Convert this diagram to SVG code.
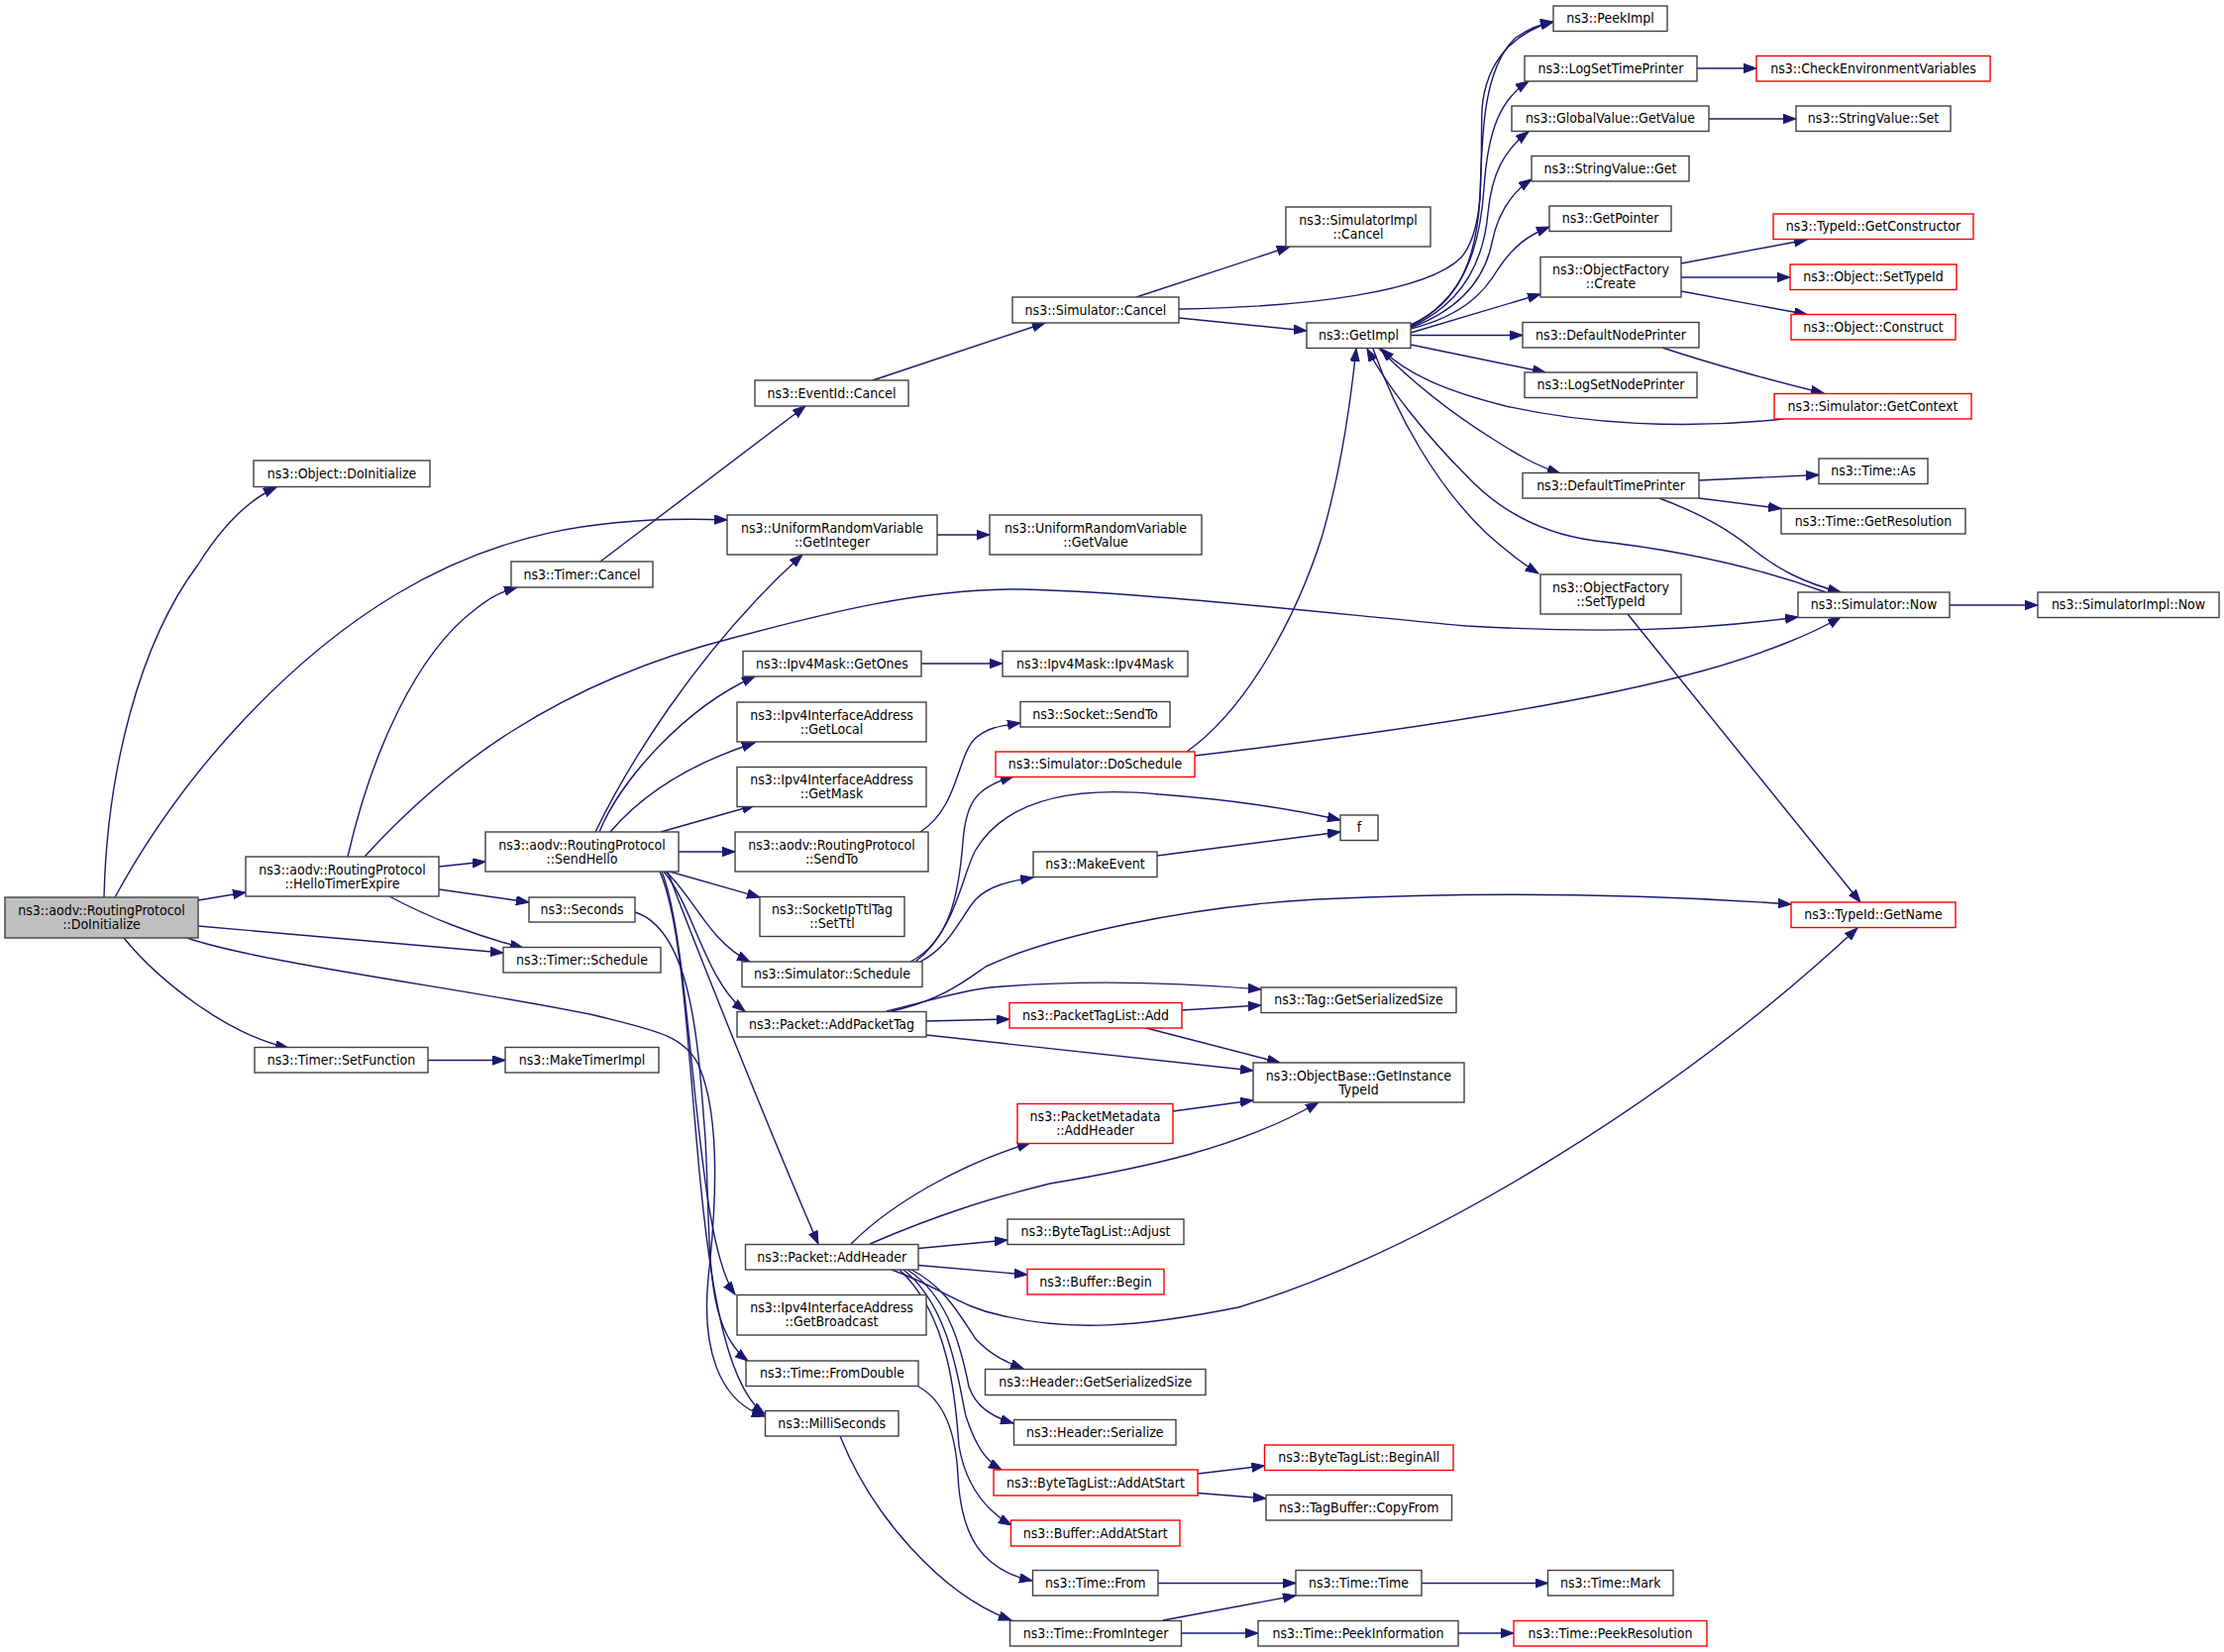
<svg xmlns="http://www.w3.org/2000/svg" width="2245" height="1668" viewBox="0 0 2245 1668">
<defs>
<style>
.n rect{fill:#fff;stroke:#404040;stroke-width:1.4}
.r rect{stroke:#ff0000}
.root rect{fill:#bfbfbf}
text{font-family:'DejaVu Sans Condensed','DejaVu Sans',sans-serif;font-stretch:condensed;font-size:14px;text-anchor:middle;fill:#000}
#edges path{fill:none;stroke:#191970;stroke-width:1.4;marker-end:url(#ah)}
</style>
<marker id="ah" markerUnits="userSpaceOnUse" markerWidth="14" markerHeight="10" refX="13" refY="4.7" orient="auto">
<path d="M0,0 L13,4.7 L0,9.4 z" fill="#191970" stroke="#191970" stroke-width="1"/>
</marker>
</defs>
<rect width="2245" height="1668" fill="#fff"/>
<g id="edges">
<path d="M105,906 C108,780 140,650 200,570 C225,530 250,505 279,492"/>
<path d="M116,906 C190,770 300,660 400,600 C500,540 600,520 734,525"/>
<path d="M200,909 L248,901"/>
<path d="M200,935 L508,962"/>
<path d="M125,947 C160,990 230,1045 291,1058"/>
<path d="M189,947 C260,972 480,1000 600,1025 C660,1040 690,1045 705,1075 C725,1120 725,1200 715,1290 C708,1360 725,1415 772,1430"/>
<path d="M351,865 C375,760 420,660 480,615 C495,603 505,598 522,593"/>
<path d="M368,865 C450,775 560,690 740,644 C830,620 930,594 1031,595 C1150,598 1300,615 1480,632 C1620,640 1720,636 1815,623"/>
<path d="M443,875 L490,870"/>
<path d="M443,898 L534,911"/>
<path d="M393,905 C430,925 480,945 528,957"/>
<path d="M601,840 C630,780 700,660 810,560"/>
<path d="M605,840 C625,790 690,715 762,683"/>
<path d="M616,840 C650,800 700,770 762,750"/>
<path d="M667,840 L762,813"/>
<path d="M685,860 L742,860"/>
<path d="M676,880 L767,906"/>
<path d="M672,880 C700,905 715,950 757,971"/>
<path d="M670,880 C700,915 712,990 752,1021"/>
<path d="M674,880 C700,950 780,1150 826,1256"/>
<path d="M668,880 C700,960 700,1250 742,1307"/>
<path d="M666,880 C710,980 690,1370 772,1428"/>
<path d="M641,921 C700,940 705,1060 712,1150 C718,1260 710,1340 755,1374"/>
<path d="M432,1070.5 L510,1070.5"/>
<path d="M606,567 L813,410"/>
<path d="M881,384 L1055,326"/>
<path d="M1147,300 L1302,249"/>
<path d="M1190,321 L1319,334"/>
<path d="M1190,312 C1320,310 1440,295 1475,260 C1500,230 1494,170 1496,110 C1500,60 1530,32 1568,22"/>
<path d="M1424,328 C1475,305 1490,260 1494,200 C1496,140 1496,70 1530,38 C1545,28 1555,24 1568,22"/>
<path d="M1424,329 C1478,302 1494,250 1498,190 C1502,130 1515,100 1543,82"/>
<path d="M1424,330 C1480,305 1498,260 1502,215 C1506,175 1518,152 1543,133"/>
<path d="M1424,331 C1480,310 1500,275 1506,245 C1512,215 1525,195 1546,181"/>
<path d="M1424,332 C1480,318 1500,292 1512,272 C1528,248 1542,238 1564,229"/>
<path d="M1424,336 L1555,297"/>
<path d="M1424,338.5 L1537,338.5"/>
<path d="M1424,348 L1560,376"/>
<path d="M1392,352 C1430,390 1470,420 1505,442 C1530,458 1550,470 1575,478"/>
<path d="M1386,352 C1410,420 1450,490 1500,538 C1520,556 1535,568 1553,579"/>
<path d="M1800,423 C1700,434 1600,428 1520,410 C1460,395 1420,378 1394,352"/>
<path d="M1843,598 C1780,575 1700,556 1610,546 C1550,538 1510,512 1480,480 C1440,440 1400,390 1380,352"/>
<path d="M1678,351 C1720,365 1790,385 1841,397"/>
<path d="M1697,266 L1824,242"/>
<path d="M1697,280 L1807,280"/>
<path d="M1697,294 L1824,317.5"/>
<path d="M1713,69 L1773,69"/>
<path d="M1725,120 L1813,120"/>
<path d="M1715,485 L1836,479.5"/>
<path d="M1715,503 L1798,513.5"/>
<path d="M1675,503 C1720,520 1745,535 1770,555 C1795,575 1820,588 1858,598"/>
<path d="M1968,611 L2057,611"/>
<path d="M1206,763 C1400,740 1600,710 1720,677 C1780,660 1830,640 1858,623"/>
<path d="M1198,759 C1260,715 1310,620 1335,540 C1355,470 1364,400 1369,352"/>
<path d="M929,840 C968,815 966,762 985,745 C998,734 1010,733 1030,730"/>
<path d="M919,971 C960,950 968,900 972,850 C975,810 985,795 1023,784"/>
<path d="M924,971 C965,940 972,880 985,858 C1020,800 1100,795 1170,802 C1250,808 1310,818 1353,828"/>
<path d="M929,971 C960,955 970,925 985,908 C1000,893 1020,890 1043,886"/>
<path d="M1168,864 L1353,840"/>
<path d="M900,1021 C950,1010 975,990 995,976 C1060,945 1200,915 1330,908 C1500,900 1650,902 1808,913"/>
<path d="M895,1021 C940,1010 970,1000 1000,997 C1100,988 1200,993 1273,999"/>
<path d="M935,1031 L1019,1029"/>
<path d="M935,1045 L1265,1081"/>
<path d="M1193,1020 L1273,1015"/>
<path d="M1157,1038 L1292,1073"/>
<path d="M1184,1122 L1265,1111"/>
<path d="M859,1256 C900,1215 970,1175 1040,1154"/>
<path d="M878,1256 C950,1225 1000,1210 1060,1195 C1150,1180 1250,1160 1331,1113"/>
<path d="M927,1260.5 L1017,1252"/>
<path d="M927,1277.5 L1037,1287"/>
<path d="M900,1282 C950,1300 970,1320 1010,1328 C1080,1345 1150,1340 1250,1320 C1450,1260 1700,1100 1875,937"/>
<path d="M920,1282 C955,1300 970,1330 985,1352 C1000,1368 1015,1375 1033,1382"/>
<path d="M916,1282 C960,1310 972,1370 978,1400 C985,1420 1000,1430 1023,1437"/>
<path d="M912,1282 C960,1320 968,1400 975,1430 C985,1460 995,1475 1011,1484"/>
<path d="M908,1282 C960,1330 965,1420 968,1460 C975,1500 995,1525 1021,1540"/>
<path d="M927,1400 C955,1415 965,1450 967,1490 C970,1550 990,1585 1042,1596"/>
<path d="M848,1450 C880,1530 950,1610 1021,1636"/>
<path d="M1174,1636 L1308,1611"/>
<path d="M1193,1649 L1270,1649"/>
<path d="M1169,1598.5 L1308,1598.5"/>
<path d="M1435,1598.5 L1562.5,1598.5"/>
<path d="M1472,1649 L1528,1649"/>
<path d="M1209,1488 L1276.5,1480"/>
<path d="M1209,1507.5 L1278,1513"/>
<path d="M946,540 L999,540"/>
<path d="M930,670 L1012,670"/>
<path d="M1643,620 L1878,911"/>
</g>
<g id="root" class="n root"><rect x="5" y="906" width="195" height="41"/><text><tspan x="102.5" y="924">ns3::aodv::RoutingProtocol</tspan><tspan x="102.5" y="938">::DoInitialize</tspan></text></g>
<g id="objdoinit" class="n"><rect x="256" y="465" width="178" height="26.5"/><text x="345" y="482.5">ns3::Object::DoInitialize</text></g>
<g id="hello" class="n"><rect x="248" y="865" width="195" height="40"/><text><tspan x="345.5" y="882.5">ns3::aodv::RoutingProtocol</tspan><tspan x="345.5" y="896.5">::HelloTimerExpire</tspan></text></g>
<g id="tcancel" class="n"><rect x="516" y="567" width="143" height="26"/><text x="587.5" y="584.5">ns3::Timer::Cancel</text></g>
<g id="getint" class="n"><rect x="734" y="520" width="212" height="40"/><text><tspan x="840" y="537.5">ns3::UniformRandomVariable</tspan><tspan x="840" y="551.5">::GetInteger</tspan></text></g>
<g id="getval" class="n"><rect x="999" y="520" width="214" height="40"/><text><tspan x="1106" y="537.5">ns3::UniformRandomVariable</tspan><tspan x="1106" y="551.5">::GetValue</tspan></text></g>
<g id="eventcancel" class="n"><rect x="762" y="384" width="155" height="26"/><text x="839.5" y="401.5">ns3::EventId::Cancel</text></g>
<g id="simcancel" class="n"><rect x="1022" y="300" width="168" height="26"/><text x="1106" y="317.5">ns3::Simulator::Cancel</text></g>
<g id="simimplcancel" class="n"><rect x="1298" y="209" width="146" height="40"/><text><tspan x="1371" y="226.5">ns3::SimulatorImpl</tspan><tspan x="1371" y="240.5">::Cancel</tspan></text></g>
<g id="getimpl" class="n"><rect x="1319" y="326" width="105" height="25.5"/><text x="1371.5" y="343.2">ns3::GetImpl</text></g>
<g id="peekimpl" class="n"><rect x="1568" y="6" width="115" height="25.5"/><text x="1625.5" y="23.2">ns3::PeekImpl</text></g>
<g id="logsettp" class="n"><rect x="1539" y="56.5" width="174" height="25.5"/><text x="1626" y="73.7">ns3::LogSetTimePrinter</text></g>
<g id="checkenv" class="n r"><rect x="1773" y="56.5" width="236" height="25.5"/><text x="1891" y="73.7">ns3::CheckEnvironmentVariables</text></g>
<g id="gvgetvalue" class="n"><rect x="1526" y="107" width="199" height="25.5"/><text x="1625.5" y="124.2">ns3::GlobalValue::GetValue</text></g>
<g id="svset" class="n"><rect x="1813" y="107" width="156" height="25.5"/><text x="1891" y="124.2">ns3::StringValue::Set</text></g>
<g id="svget" class="n"><rect x="1546" y="157.5" width="159" height="25.5"/><text x="1625.5" y="174.7">ns3::StringValue::Get</text></g>
<g id="getpointer" class="n"><rect x="1564" y="208" width="123" height="25.5"/><text x="1625.5" y="225.2">ns3::GetPointer</text></g>
<g id="getctor" class="n r"><rect x="1790" y="216" width="202" height="25.5"/><text x="1891" y="233.2">ns3::TypeId::GetConstructor</text></g>
<g id="ofcreate" class="n"><rect x="1555" y="259.5" width="142" height="40.5"/><text><tspan x="1626" y="277.2">ns3::ObjectFactory</tspan><tspan x="1626" y="291.2">::Create</tspan></text></g>
<g id="settypeid" class="n r"><rect x="1807" y="267" width="168" height="25.5"/><text x="1891" y="284.2">ns3::Object::SetTypeId</text></g>
<g id="construct" class="n r"><rect x="1808" y="317.5" width="166" height="25.5"/><text x="1891" y="334.7">ns3::Object::Construct</text></g>
<g id="defnodep" class="n"><rect x="1537" y="325.5" width="178" height="25.5"/><text x="1626" y="342.7">ns3::DefaultNodePrinter</text></g>
<g id="logsetnp" class="n"><rect x="1539" y="376" width="174" height="25.5"/><text x="1626" y="393.2">ns3::LogSetNodePrinter</text></g>
<g id="getcontext" class="n r"><rect x="1791" y="397.5" width="199" height="25.5"/><text x="1890.5" y="414.7">ns3::Simulator::GetContext</text></g>
<g id="timeas" class="n"><rect x="1836" y="463" width="110" height="25.5"/><text x="1891" y="480.2">ns3::Time::As</text></g>
<g id="deftp" class="n"><rect x="1537" y="477.5" width="178" height="25.5"/><text x="1626" y="494.7">ns3::DefaultTimePrinter</text></g>
<g id="getres" class="n"><rect x="1798" y="513.5" width="186" height="25.5"/><text x="1891" y="530.7">ns3::Time::GetResolution</text></g>
<g id="ofsettypeid" class="n"><rect x="1555" y="580" width="142" height="40"/><text><tspan x="1626" y="597.5">ns3::ObjectFactory</tspan><tspan x="1626" y="611.5">::SetTypeId</tspan></text></g>
<g id="simnow" class="n"><rect x="1815" y="598" width="153" height="25.5"/><text x="1891.5" y="615.2">ns3::Simulator::Now</text></g>
<g id="simimplnow" class="n"><rect x="2057" y="598" width="183" height="25.5"/><text x="2148.5" y="615.2">ns3::SimulatorImpl::Now</text></g>
<g id="typename" class="n r"><rect x="1808" y="911" width="166" height="25.5"/><text x="1891" y="928.2">ns3::TypeId::GetName</text></g>
<g id="sendhello" class="n"><rect x="490" y="840" width="195" height="40"/><text><tspan x="587.5" y="857.5">ns3::aodv::RoutingProtocol</tspan><tspan x="587.5" y="871.5">::SendHello</tspan></text></g>
<g id="seconds" class="n"><rect x="534" y="906" width="107" height="25"/><text x="587.5" y="923">ns3::Seconds</text></g>
<g id="tsched" class="n"><rect x="508" y="956.5" width="159" height="25.5"/><text x="587.5" y="973.7">ns3::Timer::Schedule</text></g>
<g id="setfunc" class="n"><rect x="257" y="1057.5" width="175" height="25.5"/><text x="344.5" y="1074.7">ns3::Timer::SetFunction</text></g>
<g id="maketimer" class="n"><rect x="510" y="1057.5" width="155" height="25.5"/><text x="587.5" y="1074.7">ns3::MakeTimerImpl</text></g>
<g id="getones" class="n"><rect x="750" y="657.5" width="180" height="25.5"/><text x="840" y="674.7">ns3::Ipv4Mask::GetOnes</text></g>
<g id="ipv4mask" class="n"><rect x="1012" y="657.5" width="187" height="25.5"/><text x="1105.5" y="674.7">ns3::Ipv4Mask::Ipv4Mask</text></g>
<g id="getlocal" class="n"><rect x="744" y="709" width="191" height="40"/><text><tspan x="839.5" y="726.5">ns3::Ipv4InterfaceAddress</tspan><tspan x="839.5" y="740.5">::GetLocal</tspan></text></g>
<g id="socksendto" class="n"><rect x="1030" y="708.5" width="151" height="25.5"/><text x="1105.5" y="725.7">ns3::Socket::SendTo</text></g>
<g id="dosched" class="n r"><rect x="1005" y="759" width="201" height="25.5"/><text x="1105.5" y="776.2">ns3::Simulator::DoSchedule</text></g>
<g id="getmask" class="n"><rect x="744" y="774.5" width="191" height="40"/><text><tspan x="839.5" y="792">ns3::Ipv4InterfaceAddress</tspan><tspan x="839.5" y="806">::GetMask</tspan></text></g>
<g id="f" class="n"><rect x="1353" y="823" width="38" height="25.5"/><text x="1372" y="840.2">f</text></g>
<g id="aodvsendto" class="n"><rect x="742" y="840" width="195" height="40"/><text><tspan x="839.5" y="857.5">ns3::aodv::RoutingProtocol</tspan><tspan x="839.5" y="871.5">::SendTo</tspan></text></g>
<g id="makeevent" class="n"><rect x="1043" y="860" width="125" height="25.5"/><text x="1105.5" y="877.2">ns3::MakeEvent</text></g>
<g id="setttl" class="n"><rect x="767" y="905.5" width="146" height="40"/><text><tspan x="840" y="923">ns3::SocketIpTtlTag</tspan><tspan x="840" y="937">::SetTtl</tspan></text></g>
<g id="simsched" class="n"><rect x="749" y="971" width="182" height="25.5"/><text x="840" y="988.2">ns3::Simulator::Schedule</text></g>
<g id="taggss" class="n"><rect x="1273" y="997" width="197" height="25.5"/><text x="1371.5" y="1014.2">ns3::Tag::GetSerializedSize</text></g>
<g id="ptladd" class="n r"><rect x="1019" y="1012.5" width="174" height="25.5"/><text x="1106" y="1029.7">ns3::PacketTagList::Add</text></g>
<g id="addptag" class="n"><rect x="744" y="1021.5" width="191" height="25.5"/><text x="839.5" y="1038.7">ns3::Packet::AddPacketTag</text></g>
<g id="getinsttid" class="n"><rect x="1265" y="1073" width="213" height="40"/><text><tspan x="1371.5" y="1090.5">ns3::ObjectBase::GetInstance</tspan><tspan x="1371.5" y="1104.5">TypeId</tspan></text></g>
<g id="pmaddhdr" class="n r"><rect x="1027" y="1114.5" width="157" height="40"/><text><tspan x="1105.5" y="1132">ns3::PacketMetadata</tspan><tspan x="1105.5" y="1146">::AddHeader</tspan></text></g>
<g id="btladjust" class="n"><rect x="1017" y="1231" width="178" height="25.5"/><text x="1106" y="1248.2">ns3::ByteTagList::Adjust</text></g>
<g id="addhdr" class="n"><rect x="752.5" y="1256.5" width="174.5" height="25.5"/><text x="839.75" y="1273.7">ns3::Packet::AddHeader</text></g>
<g id="bufbegin" class="n r"><rect x="1037" y="1281.5" width="138" height="25.5"/><text x="1106" y="1298.7">ns3::Buffer::Begin</text></g>
<g id="getbcast" class="n"><rect x="744" y="1307.5" width="191" height="40.5"/><text><tspan x="839.5" y="1325.2">ns3::Ipv4InterfaceAddress</tspan><tspan x="839.5" y="1339.2">::GetBroadcast</tspan></text></g>
<g id="fromdouble" class="n"><rect x="753" y="1374" width="174" height="25.5"/><text x="840" y="1391.2">ns3::Time::FromDouble</text></g>
<g id="hdrgss" class="n"><rect x="994.5" y="1382.5" width="222.5" height="26"/><text x="1105.75" y="1400">ns3::Header::GetSerializedSize</text></g>
<g id="millis" class="n"><rect x="772.5" y="1424.5" width="134.5" height="25.5"/><text x="839.75" y="1441.7">ns3::MilliSeconds</text></g>
<g id="hdrser" class="n"><rect x="1023.5" y="1433.5" width="163.5" height="25.5"/><text x="1105.25" y="1450.7">ns3::Header::Serialize</text></g>
<g id="btlbeginall" class="n r"><rect x="1276.5" y="1459" width="190.5" height="25.5"/><text x="1371.75" y="1476.2">ns3::ByteTagList::BeginAll</text></g>
<g id="btladdstart" class="n r"><rect x="1003" y="1484" width="206" height="26"/><text x="1106" y="1501.5">ns3::ByteTagList::AddAtStart</text></g>
<g id="tbcopy" class="n"><rect x="1278" y="1509.5" width="187.5" height="25.5"/><text x="1371.75" y="1526.7">ns3::TagBuffer::CopyFrom</text></g>
<g id="bufaddstart" class="n r"><rect x="1020.5" y="1535" width="170.5" height="26"/><text x="1105.75" y="1552.5">ns3::Buffer::AddAtStart</text></g>
<g id="timefrom" class="n"><rect x="1042.5" y="1585.5" width="126.5" height="25.5"/><text x="1105.75" y="1602.7">ns3::Time::From</text></g>
<g id="timetime" class="n"><rect x="1308" y="1585.5" width="127" height="25.5"/><text x="1371.5" y="1602.7">ns3::Time::Time</text></g>
<g id="fromint" class="n"><rect x="1019.5" y="1636.5" width="173" height="25.5"/><text x="1106" y="1653.7">ns3::Time::FromInteger</text></g>
<g id="peekinfo" class="n"><rect x="1270" y="1636.5" width="202" height="25.5"/><text x="1371" y="1653.7">ns3::Time::PeekInformation</text></g>
<g id="timemark" class="n"><rect x="1562.5" y="1585.5" width="126.5" height="25.5"/><text x="1625.75" y="1602.7">ns3::Time::Mark</text></g>
<g id="peekres" class="n r"><rect x="1528" y="1636.5" width="195" height="25.5"/><text x="1625.5" y="1653.7">ns3::Time::PeekResolution</text></g>
</svg>
